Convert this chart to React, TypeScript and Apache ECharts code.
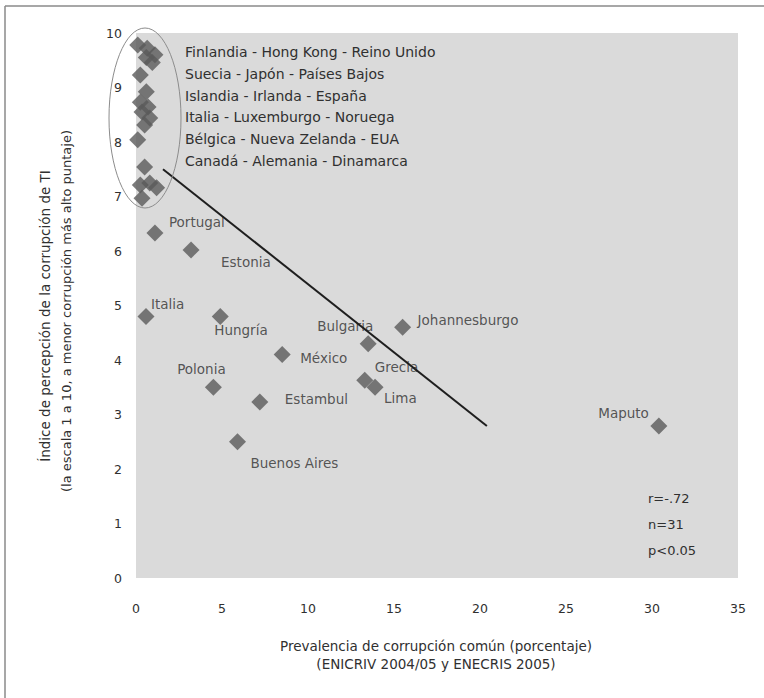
import React, { useEffect, useRef } from "react";
import * as echarts from "echarts";

// ---- data ----
const cities = ["Portugal", "Estonia", "Italia", "Hungría", "México", "Polonia", "Estambul", "Buenos Aires", "Bulgaria", "Johannesburgo", "Grecia", "Lima", "Maputo"];
const cityX = [1.1, 3.2, 0.58, 4.9, 8.5, 4.5, 7.2, 5.9, 13.5, 15.5, 13.3, 13.9, 30.4];
const cityY = [6.33, 6.02, 4.8, 4.8, 4.1, 3.5, 3.23, 2.5, 4.3, 4.6, 3.63, 3.5, 2.79];

const clusterX = [0.1, 0.65, 1.1, 0.6, 0.95, 0.25, 0.6, 0.25, 0.7, 0.35, 0.8, 0.5, 0.1, 0.5, 0.25, 0.8, 1.2, 0.35];
const clusterY = [9.78, 9.72, 9.6, 9.55, 9.46, 9.23, 8.92, 8.73, 8.64, 8.55, 8.44, 8.31, 8.04, 7.54, 7.21, 7.25, 7.16, 6.97];

const clusterNames = [
  "Finlandia - Hong Kong - Reino Unido",
  "Suecia - Japón - Países Bajos",
  "Islandia - Irlanda - España",
  "Italia - Luxemburgo - Noruega",
  "Bélgica - Nueva Zelanda - EUA",
  "Canadá - Alemania - Dinamarca",
];

const trendX = [1.57, 20.4];
const trendY = [7.5, 2.79];

const stats = ["r=-.72", "n=31", "p<0.05"];

const yTitle = [
  "Índice de percepción de la corrupción de TI",
  "(la escala 1 a 10, a menor corrupción más alto puntaje)",
];
const xTitle = [
  "Prevalencia de corrupción común (porcentaje)",
  "(ENICRIV 2004/05 y ENECRIS 2005)",
];

// ---- label placement (style) ----
const labelPlacement: Record<string, [number, number, string]> = {
  Portugal: [14, -11, "left"],
  Estonia: [30, 12, "left"],
  Italia: [5, -12, "left"],
  "Hungría": [-6, 14, "left"],
  "México": [18, 3, "left"],
  Polonia: [-12, -18, "center"],
  Estambul: [25, -3, "left"],
  "Buenos Aires": [13, 21, "left"],
  Bulgaria: [-51, -18, "left"],
  Johannesburgo: [15, -7, "left"],
  Grecia: [10, -13, "left"],
  Lima: [9, 11, "left"],
  Maputo: [-10, -13, "right"],
};

const FONT = "DejaVu Sans, Liberation Sans, sans-serif";
const TXT = "#303030";

export default function App() {
  const ref = useRef<HTMLDivElement>(null);
  useEffect(() => {
    if (!ref.current) return;
    const chart = echarts.init(ref.current, undefined, { renderer: "svg" });

    const cityData = cities.map((c, i) => {
      const p = labelPlacement[c];
      return {
        name: c,
        value: [cityX[i], cityY[i]],
        label: {
          show: true,
          formatter: c,
          position: "inside",
          offset: [p[0], p[1]],
          align: p[2],
          verticalAlign: "middle",
          color: TXT,
          fontSize: 13.5,
          fontFamily: FONT,
        },
      };
    });
    const clusterData = clusterX.map((x, i) => [x, clusterY[i]]);

    const graphics: any[] = [
      { type: "line", shape: { x1: 5, y1: 6, x2: 764, y2: 6 }, style: { stroke: "#8a8a8a", lineWidth: 1.5 } },
      { type: "line", shape: { x1: 5, y1: 6, x2: 5, y2: 698 }, style: { stroke: "#8a8a8a", lineWidth: 1.5 } },
      {
        type: "ellipse",
        shape: { cx: 145, cy: 118, rx: 36, ry: 90 },
        style: { fill: "none", stroke: "#8c8c8c", lineWidth: 1 },
        z: 10,
      },
    ];
    clusterNames.forEach((t, i) => {
      graphics.push({
        type: "text",
        x: 185,
        y: 52 + i * 21.8,
        style: { text: t, fill: TXT, font: `14px ${FONT}`, textAlign: "left", textVerticalAlign: "middle" },
        z: 10,
      });
    });
    stats.forEach((t, i) => {
      graphics.push({
        type: "text",
        x: 648,
        y: 498 + i * 26,
        style: { text: t, fill: TXT, font: `13px ${FONT}`, textAlign: "left", textVerticalAlign: "middle" },
        z: 10,
      });
    });
    graphics.push({
      type: "text",
      x: 45,
      y: 316,
      rotation: Math.PI / 2,
      style: { text: yTitle[0], fill: TXT, font: `13.5px ${FONT}`, textAlign: "center", textVerticalAlign: "middle" },
    });
    graphics.push({
      type: "text",
      x: 66,
      y: 311,
      rotation: Math.PI / 2,
      style: { text: yTitle[1], fill: TXT, font: `13px ${FONT}`, textAlign: "center", textVerticalAlign: "middle" },
    });
    xTitle.forEach((t, i) => {
      graphics.push({
        type: "text",
        x: 436,
        y: 646 + i * 18,
        style: { text: t, fill: TXT, font: `13.5px ${FONT}`, textAlign: "center", textVerticalAlign: "middle" },
      });
    });

    chart.setOption({
      animation: false,
      backgroundColor: "#ffffff",
      grid: {
        left: 136,
        right: 26,
        top: 33,
        bottom: 120,
        show: true,
        backgroundColor: "#dadada",
        borderWidth: 0,
      },
      xAxis: {
        type: "value",
        min: 0,
        max: 35,
        interval: 5,
        axisLine: { show: false },
        axisTick: { show: false },
        splitLine: { show: false },
        axisLabel: { color: TXT, fontSize: 12.5, fontFamily: FONT, margin: 24 },
      },
      yAxis: {
        type: "value",
        min: 0,
        max: 10,
        interval: 1,
        axisLine: { show: false },
        axisTick: { show: false },
        splitLine: { show: false },
        axisLabel: { color: TXT, fontSize: 12.5, fontFamily: FONT, margin: 14 },
      },
      series: [
        {
          type: "scatter",
          symbol: "diamond",
          symbolSize: 17,
          itemStyle: { color: "#5a5a5a" },
          data: clusterData,
          z: 2,
        },
        {
          type: "scatter",
          symbol: "diamond",
          symbolSize: 17,
          itemStyle: { color: "#5a5a5a" },
          data: cityData,
          z: 2,
        },
        {
          type: "line",
          data: trendX.map((x, i) => [x, trendY[i]]),
          symbol: "none",
          lineStyle: { color: "#1e1e1e", width: 2 },
          z: 5,
        },
      ],
      graphic: graphics,
    });
    return () => chart.dispose();
  }, []);
  return (
    <div
      ref={ref}
      style={{ position: "absolute", left: 0, top: 0, width: 764, height: 698 }}
    />
  );
}
